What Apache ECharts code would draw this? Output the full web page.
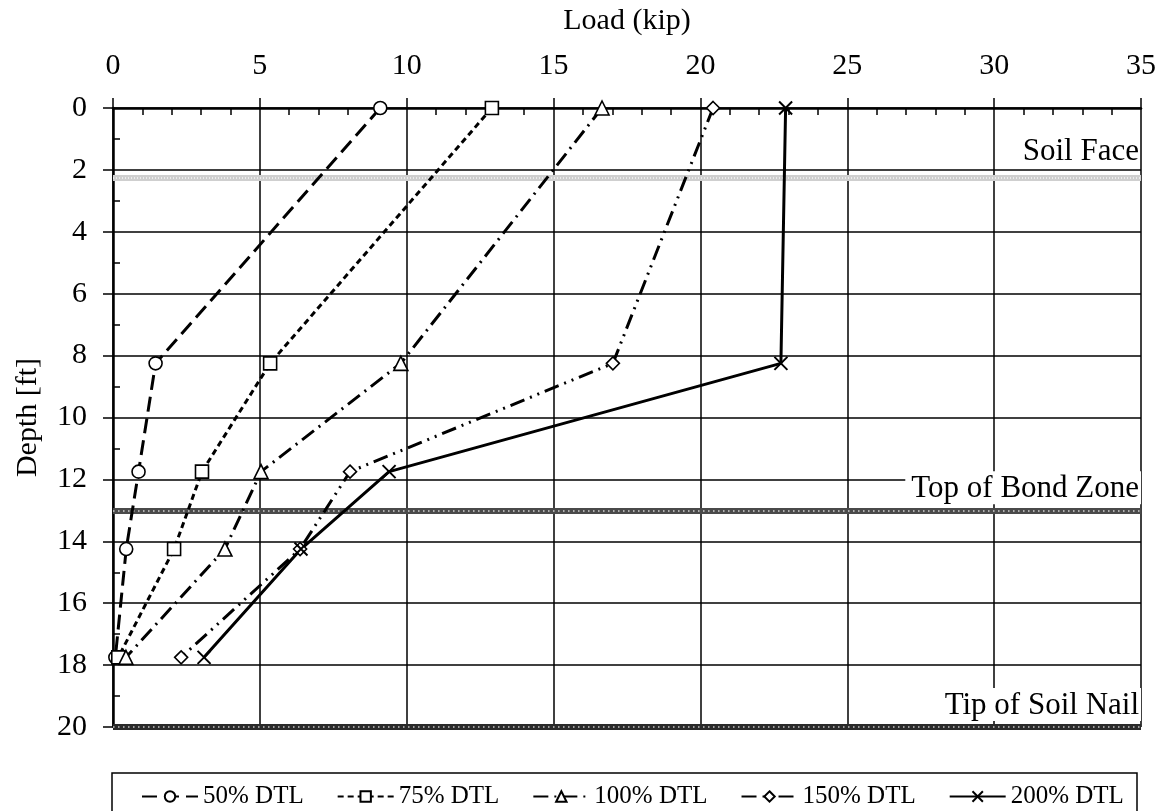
<!DOCTYPE html>
<html>
<head>
<meta charset="utf-8">
<script src="https://cdn.jsdelivr.net/npm/echarts@6/dist/echarts.min.js"></script>
<style>html,body{margin:0;padding:0;background:#fff;}#c{width:1162px;height:811px;}</style>
</head>
<body>
<div id="c"></div>
<script>
// ---- data ----
const depths = [0, 8.25, 11.75, 14.25, 17.75];
const seriesNames = ['50% DTL', '75% DTL', '100% DTL', '150% DTL', '200% DTL'];
const loads50 = [9.1, 1.45, 0.87, 0.45, 0.08];
const loads75 = [12.9, 5.35, 3.03, 2.08, 0.18];
const loads100 = [16.65, 9.8, 5.04, 3.81, 0.44];
const loads150 = [20.43, 17.02, 8.07, 6.37, 2.32];
const loads200 = [22.9, 22.74, 9.4, 6.4, 3.1];
const zoneNames = ['Soil Face', 'Top of Bond Zone', 'Tip of Soil Nail'];
const zoneDepths = [2.25, 13, 20];

const FONT = 'Liberation Serif';
const allLoads = [loads50, loads75, loads100, loads150, loads200];
const symbols = ['circle', 'rect', 'triangle', 'diamond', 'path://M0,0L10,10M10,0L0,10'];
const symSizes = [13, 13, 14, 13, 13];
const dashes = [[15, 7], [6, 4], [15, 6, 2, 6], [15, 6, 2, 6, 2, 6], 'solid'];

const series = allLoads.map((arr, i) => ({
  name: seriesNames[i],
  type: 'line',
  data: arr.map((v, j) => [v, depths[j]]),
  symbol: symbols[i],
  symbolSize: symSizes[i],
  showAllSymbol: true,
  lineStyle: { color: '#000', width: 3, type: dashes[i], cap: 'butt' },
  itemStyle: { color: '#fff', borderColor: '#000', borderWidth: i === 4 ? 2 : 1.6 },
  z: 5,
  animation: false
}));

const bandStyles = [
  [{ color: '#cfcfcf', width: 6, type: 'solid' }, { color: '#ededed', width: 2, type: [1, 2] }],
  [{ color: '#4a4a4a', width: 6, type: 'solid' }, { color: '#b0b0b0', width: 2, type: [1.5, 3.5] }],
  [{ color: '#2a2a2a', width: 6, type: 'solid' }, { color: '#a0a0a0', width: 2, type: [1.5, 3.5] }]
];
const markData = [];
zoneDepths.forEach((d, i) => {
  markData.push({ yAxis: d, lineStyle: bandStyles[i][0], label: { show: false } });
  markData.push({ yAxis: d, lineStyle: bandStyles[i][1], label: {
    show: true, position: 'insideEndTop', formatter: zoneNames[i], distance: [0, i === 0 ? 10 : 6],
    fontFamily: FONT, fontSize: 31, color: '#000',
    backgroundColor: i === 0 ? 'transparent' : '#fff', padding: [2, 2, 0, 6]
  } });
});
series.push({
  name: 'zones', type: 'line', data: [], z: 3, silent: true,
  markLine: { symbol: 'none', silent: true, animation: false, data: markData }
});

const axisFont = { fontFamily: FONT, fontSize: 30, color: '#000' };
const option = {
  animation: false,
  backgroundColor: '#fff',
  grid: { left: 113, right: 21, top: 108, bottom: 84, outerBoundsMode: 'none', containLabel: false },
  xAxis: [{
    type: 'value', position: 'top', min: 0, max: 35, interval: 5,
    name: 'Load (kip)', nameLocation: 'middle', nameGap: 72, nameTextStyle: axisFont,
    axisLine: { lineStyle: { color: '#000', width: 2.5 } },
    axisTick: { show: false, inside: true },
    minorTick: { show: true, splitNumber: 5, length: 7, lineStyle: { color: '#000', width: 1.5 } },
    axisLabel: Object.assign({ margin: 27 }, axisFont),
    splitLine: { show: true, lineStyle: { color: '#000', width: 1.5 } }
  }, {
    type: 'value', position: 'top', min: 0, max: 35, interval: 5,
    axisLine: { show: false }, axisLabel: { show: false }, splitLine: { show: false },
    axisTick: { show: true, length: 10, lineStyle: { color: '#000', width: 1.5 } }
  }],
  yAxis: [{
    type: 'value', inverse: true, min: 0, max: 20, interval: 2,
    name: 'Depth [ft]', nameLocation: 'middle', nameGap: 70, nameTextStyle: axisFont,
    axisLine: { lineStyle: { color: '#000', width: 2.5 } },
    axisTick: { show: false, inside: true },
    minorTick: { show: true, splitNumber: 2, length: 7, lineStyle: { color: '#000', width: 1.5 } },
    axisLabel: Object.assign({ margin: 26 }, axisFont),
    splitLine: { show: true, lineStyle: { color: '#000', width: 1.5 } }
  }, {
    type: 'value', inverse: true, min: 0, max: 20, interval: 2, position: 'left',
    axisLine: { show: false }, axisLabel: { show: false }, splitLine: { show: false },
    axisTick: { show: true, length: 10, lineStyle: { color: '#000', width: 1.5 } }
  }],
  legend: {
    data: seriesNames, top: 779, left: 136, itemGap: 33, itemWidth: 56, itemHeight: 13,
    textStyle: { fontFamily: FONT, fontSize: 25, color: '#000' }
  },
  graphic: [{
    type: 'rect', shape: { x: 112, y: 773, width: 1025, height: 60 },
    style: { fill: null, stroke: '#000', lineWidth: 1.5 }
  }],
  series: series
};
const chart = echarts.init(document.getElementById('c'));
chart.setOption(option);
</script>
</body>
</html>
